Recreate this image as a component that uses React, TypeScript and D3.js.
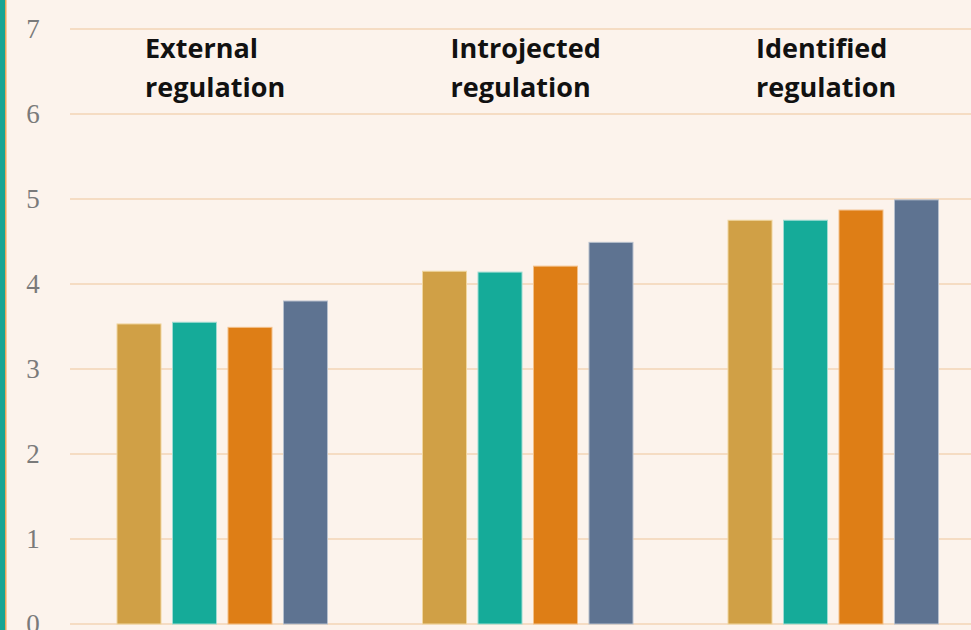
import React from 'react';
import * as d3 from 'd3';

const W = 971;
const H = 630;

// motivation categories (titles split in two lines)
const categories = ['External regulation', 'Introjected regulation', 'Identified regulation'];
const titleLines = [
  ['External', 'regulation'],
  ['Introjected', 'regulation'],
  ['Identified', 'regulation'],
];
const seriesKeys = ['s1', 's2', 's3', 's4'];
const seriesColors = ['#d0a046', '#15ab99', '#de7e16', '#5e7391'];
const seriesStroke = ['#f0d6a0', '#9fdcd2', '#f2c08a', '#b7c0cd'];

const s1 = [3.53, 4.15, 4.75];
const s2 = [3.55, 4.14, 4.75];
const s3 = [3.49, 4.21, 4.87];
const s4 = [3.8, 4.49, 4.99];
const seriesValues = [s1, s2, s3, s4];

const yTicks = [0, 1, 2, 3, 4, 5, 6, 7];

const LEFT = 70;
const GROUP_STEP = 305.5;
const TOP = 29;
const BOTTOM = 624;

function App() {
  const y = d3.scaleLinear().domain([0, 7]).range([BOTTOM, TOP]);
  const x0 = d3
    .scaleBand<string>()
    .domain(categories)
    .range([LEFT, LEFT + GROUP_STEP * categories.length]);
  // bar block inside each group
  const groupOffset = 47;
  const blockWidth = 210.5;
  const x1 = d3
    .scaleBand<string>()
    .domain(seriesKeys)
    .range([groupOffset, groupOffset + blockWidth])
    .paddingInner(0.207)
    .paddingOuter(0);

  return (
    <div style={{ position: 'fixed', left: 0, top: 0, width: W, height: H }}>
      <svg width={W} height={H} viewBox={`0 0 ${W} ${H}`} style={{ display: 'block' }}>
        <rect width={W} height={H} fill="#fcf3ec" />
        <g>
          {yTicks.map((t) => (
            <g key={`tick${t}`}>
              <line x1={LEFT} x2={W} y1={y(t)} y2={y(t)} stroke="#f5dcc3" strokeWidth={2} />
              <text
                x={33}
                y={y(t)}
                dy="0.33em"
                textAnchor="middle"
                fontFamily="'Liberation Serif', serif"
                fontSize={27}
                fill="#7a7a7a"
              >
                {t}
              </text>
            </g>
          ))}
        </g>
        <g>
          {categories.map((c, ci) => (
            <g key={c} transform={`translate(${x0(c)},0)`}>
              {seriesKeys.map((k, si) => (
                <rect
                  key={k}
                  x={x1(k)}
                  y={y(seriesValues[si][ci])}
                  width={x1.bandwidth()}
                  height={BOTTOM - y(seriesValues[si][ci])}
                  fill={seriesColors[si]}
                  stroke={seriesStroke[si]}
                  strokeWidth={1}
                />
              ))}
              <text fontFamily="'Open Sans', sans-serif" fontWeight={700} fontSize={27} fill="#111">
                <tspan x={x1('s1')! + 28} y={58}>
                  {titleLines[ci][0]}
                </tspan>
                <tspan x={x1('s1')! + 28} y={97}>
                  {titleLines[ci][1]}
                </tspan>
              </text>
            </g>
          ))}
        </g>
        <rect x={0} y={0} width={5} height={H} fill="#17a593" />
        <rect x={5} y={0} width={1.5} height={H} fill="#e8a55a" />
      </svg>
    </div>
  );
}

export default App;
